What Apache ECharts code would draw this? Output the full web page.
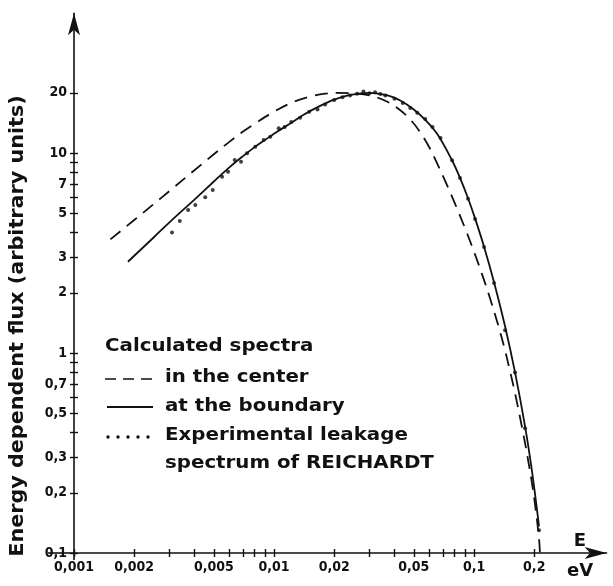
<!DOCTYPE html>
<html><head><meta charset="utf-8">
<script src="https://cdn.jsdelivr.net/npm/echarts@6/dist/echarts.min.js"></script>
<style>html,body{margin:0;padding:0;background:#fff}#c{width:613px;height:586px}</style>
</head><body><div id="c"></div>
<script>
// tick labels / ticks
const xLabelValues = [0.001,0.002,0.005,0.01,0.02,0.05,0.1,0.2];
const xTickValues = [0.001,0.002,0.003,0.004,0.005,0.006,0.007,0.008,0.009,0.01,0.02,0.03,0.04,0.05,0.06,0.07,0.08,0.09,0.1,0.2];
const yLabelValues = [0.1,0.2,0.3,0.5,0.7,1,2,3,5,7,10,20];
const yTickValues = [0.1,0.2,0.3,0.4,0.5,0.6,0.7,0.8,0.9,1,2,3,4,5,6,7,8,9,10,20];

// calculated spectrum in the center (dashed)
const centerE = [0.00152,0.002,0.0025,0.003,0.004,0.005,0.006,0.007,0.008,0.01,0.0125,0.015,0.018,0.021,0.024,0.03,0.036,0.042,0.048,0.054,0.06,0.0653,0.0716,0.0804,0.0902,0.1,0.1096,0.1202,0.1334,0.1429,0.1514,0.1603,0.1738,0.184,0.195,0.2018,0.2113,0.2135];
const centerFlux = [3.70,4.62,5.55,6.45,8.2,9.85,11.4,12.8,14.0,16.1,18.0,19.1,19.8,20.0,19.9,19.42,18.26,16.6,14.72,12.64,10.59,8.9,7.27,5.57,4.20,3.21,2.48,1.88,1.33,1.03,0.81,0.63,0.424,0.313,0.222,0.175,0.118,0.1];

// calculated spectrum at the boundary (solid)
const boundaryE = [0.00186,0.0025,0.003,0.004,0.005,0.006,0.007,0.008,0.009,0.0104,0.012,0.014,0.017,0.02,0.024,0.027,0.03,0.037,0.043,0.05,0.058,0.066,0.0776,0.0851,0.0933,0.1012,0.1122,0.1259,0.1429,0.1603,0.1799,0.195,0.2113];
const boundaryFlux = [2.86,3.78,4.5,5.85,7.2,8.5,9.65,10.7,11.6,12.8,14.0,15.5,17.2,18.5,19.5,19.85,20.0,19.4,18.25,16.5,14.4,12.3,9.2,7.51,5.94,4.71,3.40,2.26,1.36,0.80,0.43,0.255,0.136];

// experimental leakage spectrum of REICHARDT (dots)
const expE = [0.00309,0.00338,0.00372,0.00404,0.00453,0.00494,0.0055,0.00589,0.00636,0.00684,0.00733,0.00806,0.00888,0.00958,0.01056,0.0113,0.0122,0.0135,0.015,0.0165,0.018,0.02,0.022,0.024,0.026,0.028,0.030,0.032,0.034,0.036,0.040,0.044,0.048,0.052,0.057,0.062,0.068,0.0776,0.0851,0.0933,0.1012,0.1122,0.1259,0.1429,0.1603,0.1799,0.2113];
const expFlux = [4.0,4.57,5.19,5.5,6.0,6.53,7.61,8.06,9.23,9.05,9.97,10.75,11.6,12.06,13.3,13.5,14.3,15.0,16.1,16.5,17.5,18.4,19.0,19.4,19.8,20.3,19.9,20.1,19.7,19.4,18.7,17.8,16.8,15.9,14.8,13.5,11.9,9.2,7.5,5.9,4.68,3.39,2.24,1.30,0.80,0.42,0.13];

const pair = (xs, ys) => xs.map((x, i) => [x, ys[i]]);
const fmt = v => String(+v.toPrecision(6)).replace('.', ',');
const FONT = 'DejaVu Sans';
const TICKFONT = '"Liberation Sans Narrow", "DejaVu Sans Condensed", "DejaVu Sans"';
const INK = '#111';

const chart = echarts.init(document.getElementById('c'), null, {renderer: 'canvas'});

function axisPair(labels, ticks, min, max, arrowSize) {
  return [{
    type: 'log', logBase: 10, min: min, max: max,
    axisLine: {show: true, onZero: false, symbol: ['none', 'arrow'], symbolSize: arrowSize,
      lineStyle: {color: INK, width: 1.6}},
    axisTick: {show: true, inside: false, length: 4, customValues: ticks, lineStyle: {color: INK, width: 1.4}},
    axisLabel: {show: true, customValues: labels, formatter: fmt, color: INK, fontFamily: TICKFONT,
      fontWeight: 'bold', fontSize: 14, margin: 7},
    splitLine: {show: false}, minorTick: {show: false}, minorSplitLine: {show: false}
  }, {
    type: 'log', logBase: 10, min: min, max: max,
    axisLine: {show: false},
    axisTick: {show: true, inside: true, length: 4, customValues: ticks, lineStyle: {color: INK, width: 1.4}},
    axisLabel: {show: false},
    splitLine: {show: false}
  }];
}

const xs = axisPair(xLabelValues, xTickValues, 0.001, 0.46, [9, 22]);
xs[0].position = 'bottom'; xs[1].position = 'bottom';
const ys = axisPair(yLabelValues, yTickValues, 0.1, 50, [9, 22]);
ys[0].position = 'left'; ys[1].position = 'left';

const legendFont = 'bold 18px "' + FONT + '"';
const LSX = 1.1;
function legendText(txt, x, y) {
  return {type: 'text', x: x, y: y, scaleX: LSX,
    style: {text: txt, font: legendFont, fill: INK, textVerticalAlign: 'middle'}};
}
const option = {
  animation: false,
  backgroundColor: '#fff',
  grid: {left: 74, top: 13.2, width: 532.6, height: 539.8, containLabel: false},
  xAxis: xs,
  yAxis: ys,
  series: [
    {name: 'in the center', type: 'line', data: pair(centerE, centerFlux), showSymbol: false,
      smooth: 0.35, lineStyle: {color: INK, width: 1.8, type: [13, 8]}},
    {name: 'at the boundary', type: 'line', data: pair(boundaryE, boundaryFlux), showSymbol: false,
      smooth: 0.35, lineStyle: {color: INK, width: 1.8}},
    {name: 'Experimental leakage spectrum of REICHARDT', type: 'scatter', data: pair(expE, expFlux),
      symbolSize: 4, itemStyle: {color: INK}}
  ],
  graphic: [
    {type: 'line', shape: {x1: 48, y1: 553, x2: 74, y2: 553}, style: {stroke: INK, lineWidth: 1.6}},
    {type: 'line', shape: {x1: 74, y1: 553, x2: 74, y2: 560}, style: {stroke: INK, lineWidth: 1.6}},
    {type: 'text', x: 18, y: 326, rotation: Math.PI / 2, scaleX: 1.09,
      style: {text: 'Energy dependent flux (arbitrary units)', font: 'bold 19px "' + FONT + '"', fill: INK,
        textAlign: 'center', textVerticalAlign: 'middle'}},
    {type: 'text', x: 580, y: 541, style: {text: 'E', font: 'bold 18px "' + FONT + '"', fill: INK, textAlign: 'center', textVerticalAlign: 'middle'}},
    {type: 'text', x: 580, y: 571, style: {text: 'eV', font: 'bold 18px "' + FONT + '"', fill: INK, textAlign: 'center', textVerticalAlign: 'middle'}},
    legendText('Calculated spectra', 105, 346),
    {type: 'line', shape: {x1: 105, y1: 379, x2: 153, y2: 379}, style: {stroke: INK, lineWidth: 1.6, lineDash: [11, 7]}},
    legendText('in the center', 165, 377),
    {type: 'line', shape: {x1: 107, y1: 407, x2: 153, y2: 407}, style: {stroke: INK, lineWidth: 1.8}},
    legendText('at the boundary', 165, 406),
    {type: 'circle', shape: {cx: 108, cy: 437, r: 1.7}, style: {fill: INK}},
    {type: 'circle', shape: {cx: 118, cy: 437, r: 1.7}, style: {fill: INK}},
    {type: 'circle', shape: {cx: 128, cy: 437, r: 1.7}, style: {fill: INK}},
    {type: 'circle', shape: {cx: 138, cy: 437, r: 1.7}, style: {fill: INK}},
    {type: 'circle', shape: {cx: 148, cy: 437, r: 1.7}, style: {fill: INK}},
    legendText('Experimental leakage', 165, 435),
    legendText('spectrum of REICHARDT', 165, 463)
  ]
};
chart.setOption(option);
</script>
</body></html>
